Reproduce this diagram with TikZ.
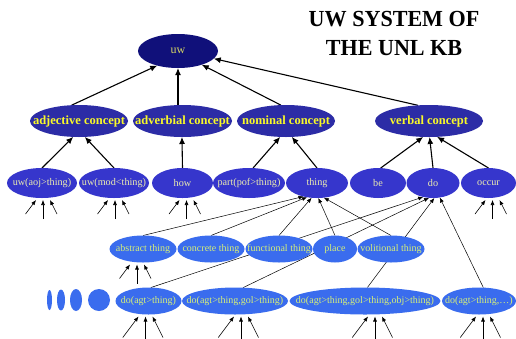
\documentclass[tikz,border=0pt]{standalone}
\usepackage{fontspec}
\setmainfont{Liberation Serif}
\usetikzlibrary{shapes.geometric,arrows.meta,backgrounds}
\definecolor{cuw}{RGB}{16,16,122}
\definecolor{ctwo}{RGB}{44,44,166}
\definecolor{cthree}{RGB}{54,54,204}
\definecolor{cfour}{RGB}{58,108,238}
\definecolor{tuw}{RGB}{214,214,100}
\definecolor{ttwo}{RGB}{250,250,40}
\definecolor{tthree}{RGB}{236,236,176}
\definecolor{tfour}{RGB}{214,240,120}
\tikzset{
  base/.style={ellipse, inner sep=0pt, outer sep=0pt},
  uwnode/.style={base, fill=cuw, text=tuw, font=\fontsize{12}{14}\selectfont},
  lvtwo/.style={base, fill=ctwo, text=ttwo, font=\bfseries\fontsize{12.5}{14}\selectfont, minimum height=32pt},
  lvthree/.style={base, fill=cthree, text=tthree, font=\fontsize{10.2}{12}\selectfont, minimum height=30pt},
  lvfour/.style={base, fill=cfour, text=tfour, font=\fontsize{10}{12}\selectfont, minimum height=27pt},
  dotnode/.style={base, fill=cfour},
  mainarr/.style={-{Latex[length=7pt,width=6pt]}, line width=1.1pt},
  thinarr/.style={-{Latex[length=5pt,width=4pt]}, line width=0.5pt},
  triarr/.style={-{Latex[length=5pt,width=4pt]}, line width=0.6pt},
}
\newcommand\tripl[3]{%
  \coordinate (#1-tl) at ([shift={(#2-7-0.75*#3,2+#3)}]#1.south);
  \coordinate (#1-tm) at ([shift={(#2,7+#3)}]#1.south);
  \coordinate (#1-tr) at ([shift={(#2+7+0.5*#3,2+#3)}]#1.south);
  \draw[triarr] (#1-tl) -- ([shift={(#2-7,2)}]#1.south);
  \draw[triarr] (#1-tm) -- ([shift={(#2,2)}]#1.south);
  \draw[triarr] (#1-tr) -- ([shift={(#2+7,2)}]#1.south);
}
\begin{document}
\begin{tikzpicture}[x=1pt,y=-1pt]
\useasboundingbox (0,0) rectangle (516,338);
% title
\node[font=\bfseries\fontsize{23}{29}\selectfont, align=center] (title) at (394,33)
  {\scalebox{0.96}[1]{UW SYSTEM OF}\\\scalebox{0.96}[1]{THE UNL KB}};
% level 1
\node[uwnode, minimum width=80pt, minimum height=34pt] (uw) at (178,51) {\makebox[0pt]{uw}};
% level 2
\node[lvtwo, minimum width=98pt] (adj) at (79,121) {\makebox[0pt]{adjective concept}};
\node[lvtwo, minimum width=99pt] (adv) at (182.5,121) {\makebox[0pt]{adverbial concept}};
\node[lvtwo, minimum width=98pt] (nom) at (286,121) {\makebox[0pt]{nominal concept}};
\node[lvtwo, minimum width=108pt] (verb) at (429,121) {\makebox[0pt]{verbal concept}};
% level 3
\node[lvthree, minimum width=70pt] (aoj) at (42,183) {\makebox[0pt]{uw(aoj>thing)}};
\node[lvthree, minimum width=70pt] (mod) at (114,183) {\makebox[0pt]{uw(mod<thing)}};
\node[lvthree, minimum width=61pt] (how) at (182.5,183) {\makebox[0pt]{how}};
\node[lvthree, minimum width=72pt] (part) at (249,183) {\makebox[0pt]{part(pof>thing)}};
\node[lvthree, minimum width=62pt] (thing) at (317,183) {\makebox[0pt]{thing}};
\node[lvthree, minimum width=56pt] (be) at (378,183) {\makebox[0pt]{be}};
\node[lvthree, minimum width=53pt] (do) at (433,183) {\makebox[0pt]{do}};
\node[lvthree, minimum width=55pt] (occur) at (488.5,183) {\makebox[0pt]{occur}};
% level 4
\node[lvfour, minimum width=67pt] (abs) at (143,249) {\makebox[0pt]{abstract thing}};
\node[lvfour, minimum width=67pt] (con) at (211,249) {\makebox[0pt]{concrete thing}};
\node[lvfour, minimum width=67pt] (fun) at (279,249) {\makebox[0pt]{functional thing}};
\node[lvfour, minimum width=44pt] (pla) at (335,249) {\makebox[0pt]{place}};
\node[lvfour, minimum width=67pt] (vol) at (391,249) {\makebox[0pt]{volitional thing}};
% level 5
\node[dotnode, minimum width=5pt, minimum height=20pt] (s1) at (49.5,300) {};
\node[dotnode, minimum width=8pt, minimum height=21pt] (s2) at (61,300) {};
\node[dotnode, minimum width=12pt, minimum height=22pt] (s3) at (76,300) {};
\node[dotnode, minimum width=22pt, minimum height=22pt] (s4) at (99,300) {};
\node[lvfour, minimum width=66pt] (d1) at (148.5,301) {\makebox[0pt]{do(agt>thing)}};
\node[lvfour, minimum width=106pt] (d2) at (235,301) {\makebox[0pt]{do(agt>thing,gol>thing)}};
\node[lvfour, minimum width=151pt] (d3) at (365,301) {\makebox[0pt]{do(agt>thing,gol>thing,obj>thing)}};
\node[lvfour, minimum width=74pt] (d4) at (479,301) {\makebox[0pt]{do(agt>thing,\dots)}};
\begin{pgfonlayer}{background}
\fill[white] (0,0) rectangle (516,338);
% level 2 -> uw
\draw[mainarr] (adj.115) -- (uw.215);
\draw[mainarr] (uw.south |- adv.north) -- (uw.south);
\draw[mainarr] (nom.108) -- (uw.-30);
\draw[mainarr] (verb.125) -- (uw.-12);
% level 3 -> level 2
\draw[mainarr] (aoj.north) -- (adj.250);
\draw[mainarr] (mod.north) -- (adj.290);
\draw[mainarr] (how.north) -- (adv.268);
\draw[mainarr] (part.75) -- (nom.250);
\draw[mainarr] (thing.north) -- (nom.290);
\draw[mainarr] (be.80) -- (verb.250);
\draw[mainarr] (do.north) -- (verb.272);
\draw[mainarr] (occur.north) -- (verb.297);
% level 4 -> thing
\draw[thinarr] (abs.north) -- (thing.225);
\draw[thinarr] (con.north) -- (thing.235);
\draw[thinarr] (fun.north) -- (thing.250);
\draw[thinarr] (pla.north) -- (thing.275);
\draw[thinarr] (vol.north) -- (thing.295);
% level 5 -> do
\draw[thinarr] (d1.80) -- (do.235);
\draw[thinarr] (d2.59) -- (do.255);
\draw[thinarr] (d3.80) -- (do.275);
\draw[thinarr] (d4.72) -- (do.295);
\end{pgfonlayer}
% incoming triplets
\tripl{aoj}{1}{14}
\tripl{mod}{1}{14}
\tripl{how}{4}{14}
\tripl{occur}{4}{14}
\tripl{abs}{-6}{14}
\tripl{d1}{-3}{21}
\tripl{d2}{6}{21}
\tripl{d3}{10}{21}
\tripl{d4}{4}{21}
\end{tikzpicture}
\end{document}
